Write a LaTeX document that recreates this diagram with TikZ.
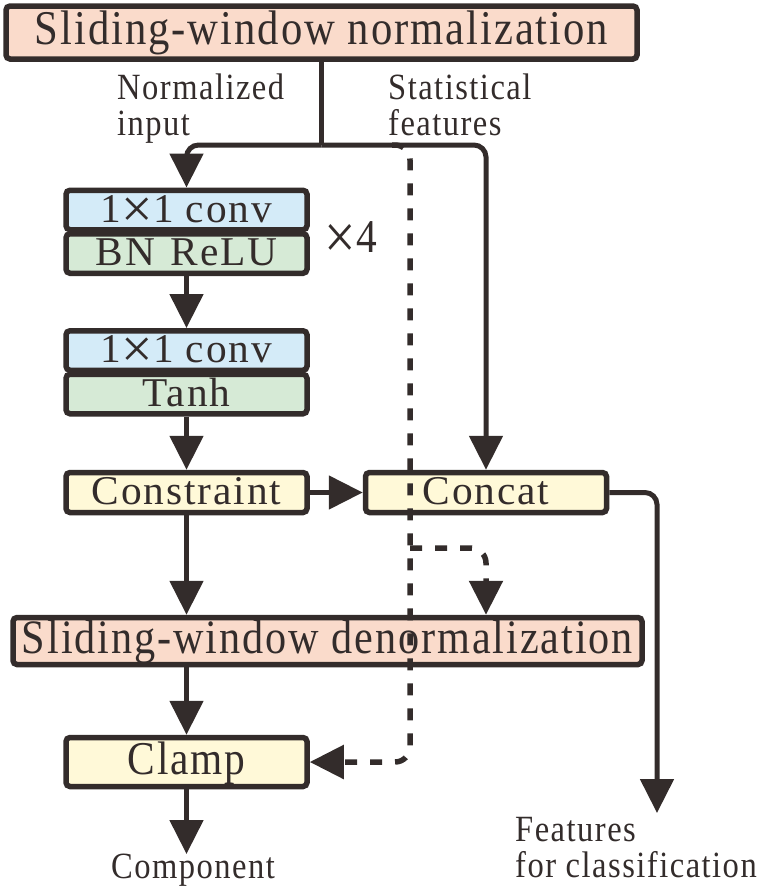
\documentclass[tikz,border=0pt]{standalone}
\usepackage{fontspec}
\usepackage{graphicx}
\setmainfont{Liberation Serif}[FakeStretch=0.88,LetterSpace=4]
\usetikzlibrary{arrows.meta}
\definecolor{ink}{RGB}{51,44,43}
\definecolor{peach}{RGB}{250,219,203}
\definecolor{convblue}{RGB}{212,235,248}
\definecolor{actgreen}{RGB}{214,234,214}
\definecolor{pale}{RGB}{255,249,216}
\newcommand{\bigx}{\raisebox{-6pt}{\scalebox{1.35}{×}}}
\newcommand{\sq}[1]{\scalebox{1}[0.87]{#1}}
\begin{document}
\begin{tikzpicture}[x=1pt,y=-1pt,
  box/.style={draw=ink,line width=5.5pt,rounded corners=4pt,inner sep=0pt,
    font=\fontsize{47}{50}\selectfont,text=ink,text height=32pt,text depth=7.5pt},
  wide/.style={box,minimum width=631pt,minimum height=53pt,fill=peach,font=\fontsize{48.5}{50}\selectfont},
  blk/.style={box,minimum width=241pt,minimum height=38pt},
  lbl/.style={inner sep=0pt,text=ink,font=\fontsize{37}{36}\selectfont,align=left},
  arr/.style={draw=ink,line width=5pt,-{Triangle[length=34pt,width=33pt]}},
  dsh/.style={draw=ink,line width=5.5pt,dash pattern=on 12pt off 13pt}
]
\path[use as bounding box] (0,0) rectangle (758,887);

\node[wide] (top) at (321.5,32.5) {Sliding-window normalization};
\node[blk,fill=convblue] (conv1) at (186.5,210) {\sq{1\bigx1 conv}};
\node[blk,fill=actgreen] (bn) at (186.5,253.5) {\sq{BN\,\,ReLU}};
\node[box,draw=none,fill=none,anchor=west] (times4) at (322,240) {\bigx4};
\node[blk,fill=convblue] (conv2) at (186.5,350.5) {\sq{1\bigx1 conv}};
\node[blk,fill=actgreen] (tanh) at (186.5,394) {\sq{Tanh}};
\node[blk,fill=pale,minimum height=40pt] (cons) at (186.5,492.5) {\sq{Constraint}};
\node[blk,fill=pale,minimum height=40pt] (concat) at (486,492.5) {\sq{Concat}};
\node[wide,minimum width=629pt,minimum height=47pt,font=\fontsize{48}{50}\selectfont] (denorm) at (327.5,641) {Sliding-window denormalization};
\node[blk,fill=pale,minimum height=49pt] (clamp) at (186.5,762) {Clamp};

\node[lbl,anchor=north west] (nin) at (117,74) {Normalized\\input};
\node[lbl,anchor=north west] (stat) at (388,74) {Statistical\\features};
\node[lbl,anchor=north] (comp) at (193,854) {Component};
\node[lbl,anchor=north west] (feat) at (515,817) {Features\\for classification};

\coordinate (split) at (321.5,145);
\coordinate (ds) at (392,145);
\coordinate (br) at (410,548);
\coordinate (featout) at (657,813);

\draw[draw=ink,line width=5pt] (top.south) -- (split);
\draw[arr,rounded corners=12pt] (split) -| (conv1.north);
\draw[arr,rounded corners=12pt] (split) -| (concat.north);
\draw[arr] (bn.south) -- (conv2.north);
\draw[arr] (tanh.south) -- (cons.north);
\draw[arr] (cons.east) -- (concat.west);
\draw[arr,rounded corners=12pt] (concat.east) -| (featout);
\draw[arr] (cons.south) -- (cons.south |- denorm.north);
\draw[arr] (clamp.north |- denorm.south) -- (clamp.north);
\draw[arr] (clamp.south) -- (clamp.south |- comp.north);

\draw[dsh,-{Triangle[length=34pt,width=33pt]},rounded corners=15pt] (ds) -| (410,762) -- (clamp.east);
\draw[dsh,-{Triangle[length=34pt,width=33pt]},rounded corners=15pt] (br) -| (denorm.north -| concat.south);
\end{tikzpicture}
\end{document}
